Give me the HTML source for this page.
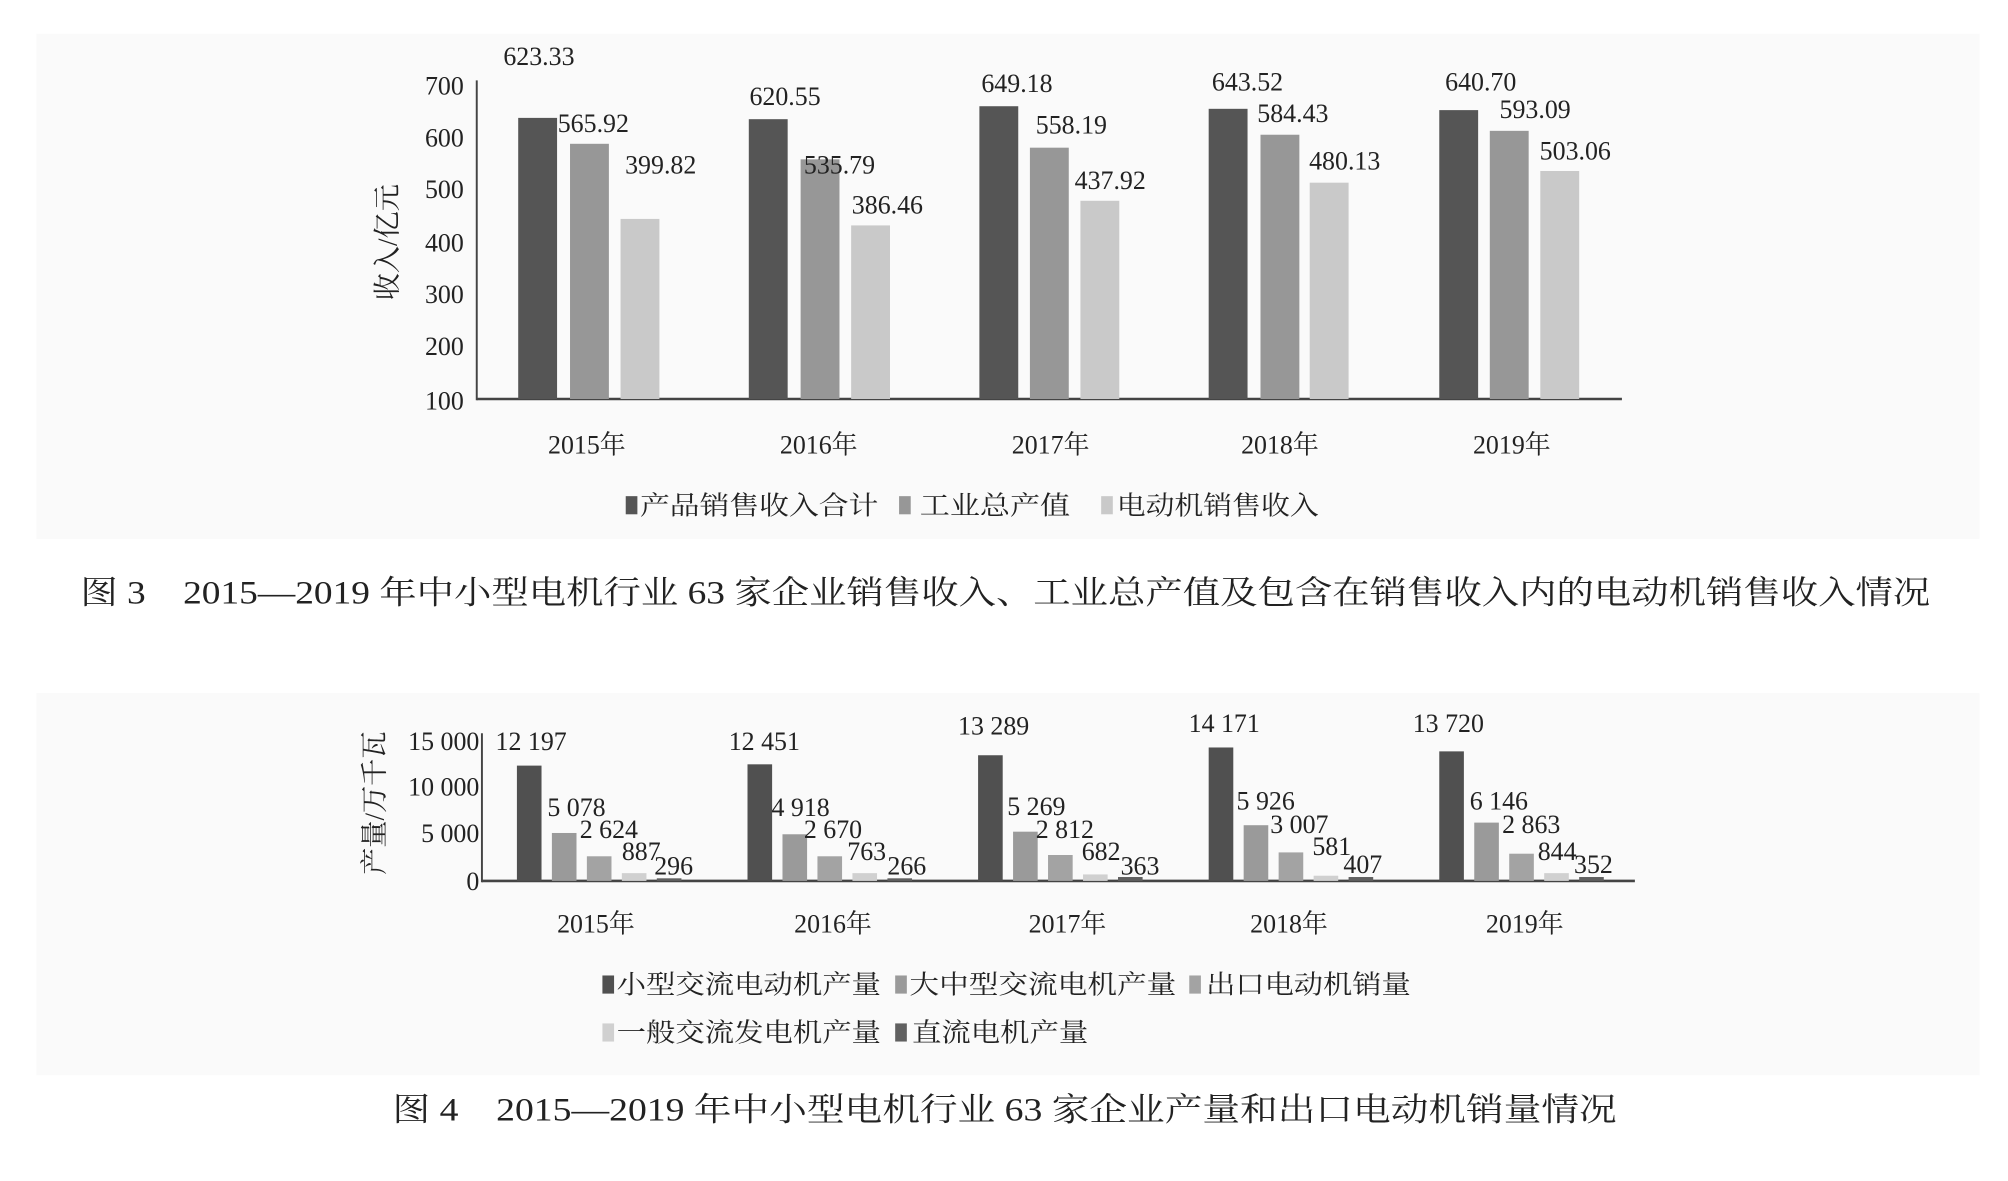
<!DOCTYPE html>
<html><head><meta charset="utf-8"><style>
html,body{margin:0;padding:0;background:#fff;}
svg{display:block;}
text{font-family:"Liberation Serif","Noto Serif CJK SC",serif;fill:#222;}
</style></head><body>
<svg width="2008" height="1181" viewBox="0 0 1550 911.65" xmlns="http://www.w3.org/2000/svg">
<rect x="28" y="26" width="1500" height="390" fill="#fafafa"/>
<rect x="28" y="535" width="1500" height="295" fill="#fafafa"/>

<!-- Chart 1 -->
<g font-size="20">
<line x1="368" y1="62" x2="368" y2="309" stroke="#444" stroke-width="1.5"/>
<line x1="368" y1="308" x2="1252" y2="308" stroke="#444" stroke-width="2"/>
<g text-anchor="end">
<text x="358" y="73">700</text><text x="358" y="113">600</text><text x="358" y="153">500</text>
<text x="358" y="194">400</text><text x="358" y="234">300</text><text x="358" y="274">200</text>
<text x="358" y="316">100</text>
</g>
<text transform="translate(306,187) rotate(-90)" text-anchor="middle" font-size="21">收入/亿元</text>
<g>
<rect x="400" y="91" width="30" height="217" fill="#555"/>
<rect x="440" y="111" width="30" height="197" fill="#979797"/>
<rect x="479" y="169" width="30" height="139" fill="#c9c9c9"/>
<rect x="578" y="92" width="30" height="216" fill="#555"/>
<rect x="618" y="123" width="30" height="185" fill="#979797"/>
<rect x="657" y="174" width="30" height="134" fill="#c9c9c9"/>
<rect x="756" y="82" width="30" height="226" fill="#555"/>
<rect x="795" y="114" width="30" height="194" fill="#979797"/>
<rect x="834" y="155" width="30" height="153" fill="#c9c9c9"/>
<rect x="933" y="84" width="30" height="224" fill="#555"/>
<rect x="973" y="104" width="30" height="204" fill="#979797"/>
<rect x="1011" y="141" width="30" height="167" fill="#c9c9c9"/>
<rect x="1111" y="85" width="30" height="223" fill="#555"/>
<rect x="1150" y="101" width="30" height="207" fill="#979797"/>
<rect x="1189" y="132" width="30" height="176" fill="#c9c9c9"/>
</g>
<g text-anchor="middle">
<text x="416" y="50">623.33</text><text x="458" y="102">565.92</text><text x="510" y="134">399.82</text>
<text x="606" y="81">620.55</text><text x="648" y="134">535.79</text><text x="685" y="165">386.46</text>
<text x="785" y="71">649.18</text><text x="827" y="103">558.19</text><text x="857" y="146">437.92</text>
<text x="963" y="70">643.52</text><text x="998" y="94">584.43</text><text x="1038" y="131">480.13</text>
<text x="1143" y="70">640.70</text><text x="1185" y="91">593.09</text><text x="1216" y="123">503.06</text>
<text x="453" y="350">2015年</text><text x="632" y="350">2016年</text><text x="811" y="350">2017年</text>
<text x="988" y="350">2018年</text><text x="1167" y="350">2019年</text>
</g>
<rect x="483" y="383" width="9" height="14" fill="#555"/>
<text x="494" y="397" textLength="184" lengthAdjust="spacingAndGlyphs">产品销售收入合计</text>
<rect x="694" y="383" width="9" height="14" fill="#979797"/>
<text x="710" y="397" textLength="116" lengthAdjust="spacingAndGlyphs">工业总产值</text>
<rect x="850" y="383" width="9" height="14" fill="#c9c9c9"/>
<text x="862" y="397" textLength="156" lengthAdjust="spacingAndGlyphs">电动机销售收入</text>
</g>
<text x="62" y="466" font-size="25" textLength="1428" lengthAdjust="spacingAndGlyphs">图 3　2015—2019 年中小型电机行业 63 家企业销售收入、工业总产值及包含在销售收入内的电动机销售收入情况</text>

<!-- Chart 2 -->
<g font-size="20">
<line x1="372" y1="566" x2="372" y2="681" stroke="#444" stroke-width="1.5"/>
<line x1="372" y1="680" x2="1262" y2="680" stroke="#444" stroke-width="2"/>
<g text-anchor="end">
<text x="370" y="579">15 000</text><text x="370" y="614">10 000</text><text x="370" y="650">5 000</text><text x="370" y="687">0</text>
</g>
<text transform="translate(296,620) rotate(-90)" text-anchor="middle" font-size="21">产量/万千瓦</text>
<g>
<rect x="399" y="591" width="19" height="89" fill="#505050"/>
<rect x="426" y="643" width="19" height="37" fill="#9a9a9a"/>
<rect x="453" y="661" width="19" height="19" fill="#a3a3a3"/>
<rect x="480" y="674" width="19" height="6" fill="#d0d0d0"/>
<rect x="507" y="678" width="19" height="2" fill="#606060"/>
<rect x="577" y="590" width="19" height="90" fill="#505050"/>
<rect x="604" y="644" width="19" height="36" fill="#9a9a9a"/>
<rect x="631" y="661" width="19" height="19" fill="#a3a3a3"/>
<rect x="658" y="674" width="19" height="6" fill="#d0d0d0"/>
<rect x="685" y="678" width="19" height="2" fill="#606060"/>
<rect x="755" y="583" width="19" height="97" fill="#505050"/>
<rect x="782" y="642" width="19" height="38" fill="#9a9a9a"/>
<rect x="809" y="660" width="19" height="20" fill="#a3a3a3"/>
<rect x="836" y="675" width="19" height="5" fill="#d0d0d0"/>
<rect x="863" y="677" width="19" height="3" fill="#606060"/>
<rect x="933" y="577" width="19" height="103" fill="#505050"/>
<rect x="960" y="637" width="19" height="43" fill="#9a9a9a"/>
<rect x="987" y="658" width="19" height="22" fill="#a3a3a3"/>
<rect x="1014" y="676" width="19" height="4" fill="#d0d0d0"/>
<rect x="1041" y="677" width="19" height="3" fill="#606060"/>
<rect x="1111" y="580" width="19" height="100" fill="#505050"/>
<rect x="1138" y="635" width="19" height="45" fill="#9a9a9a"/>
<rect x="1165" y="659" width="19" height="21" fill="#a3a3a3"/>
<rect x="1192" y="674" width="19" height="6" fill="#d0d0d0"/>
<rect x="1219" y="677" width="19" height="3" fill="#606060"/>
</g>
<g text-anchor="middle">
<text x="410" y="579">12 197</text><text x="445" y="630">5 078</text><text x="470" y="647">2 624</text><text x="495" y="664">887</text><text x="520" y="675">296</text>
<text x="590" y="579">12 451</text><text x="618" y="630">4 918</text><text x="643" y="647">2 670</text><text x="669" y="664">763</text><text x="700" y="675">266</text>
<text x="767" y="567">13 289</text><text x="800" y="629">5 269</text><text x="822" y="647">2 812</text><text x="850" y="664">682</text><text x="880" y="675">363</text>
<text x="945" y="565">14 171</text><text x="977" y="625">5 926</text><text x="1003" y="643">3 007</text><text x="1028" y="660">581</text><text x="1052" y="674">407</text>
<text x="1118" y="565">13 720</text><text x="1157" y="625">6 146</text><text x="1182" y="643">2 863</text><text x="1202" y="664">844</text><text x="1230" y="674">352</text>
<text x="460" y="720">2015年</text><text x="643" y="720">2016年</text><text x="824" y="720">2017年</text>
<text x="995" y="720">2018年</text><text x="1177" y="720">2019年</text>
</g>
<rect x="465" y="753" width="9" height="14" fill="#505050"/>
<text x="476" y="767" textLength="204" lengthAdjust="spacingAndGlyphs">小型交流电动机产量</text>
<rect x="691" y="753" width="9" height="14" fill="#9a9a9a"/>
<text x="702" y="767" textLength="206" lengthAdjust="spacingAndGlyphs">大中型交流电机产量</text>
<rect x="918" y="753" width="9" height="14" fill="#a3a3a3"/>
<text x="931" y="767" textLength="158" lengthAdjust="spacingAndGlyphs">出口电动机销量</text>
<rect x="465" y="790" width="9" height="14" fill="#d0d0d0"/>
<text x="476" y="804" textLength="204" lengthAdjust="spacingAndGlyphs">一般交流发电机产量</text>
<rect x="691" y="790" width="9" height="14" fill="#606060"/>
<text x="704" y="804" textLength="136" lengthAdjust="spacingAndGlyphs">直流电机产量</text>
</g>
<text x="303" y="865" font-size="25" textLength="945" lengthAdjust="spacingAndGlyphs">图 4　2015—2019 年中小型电机行业 63 家企业产量和出口电动机销量情况</text>
</svg>
</body></html>
